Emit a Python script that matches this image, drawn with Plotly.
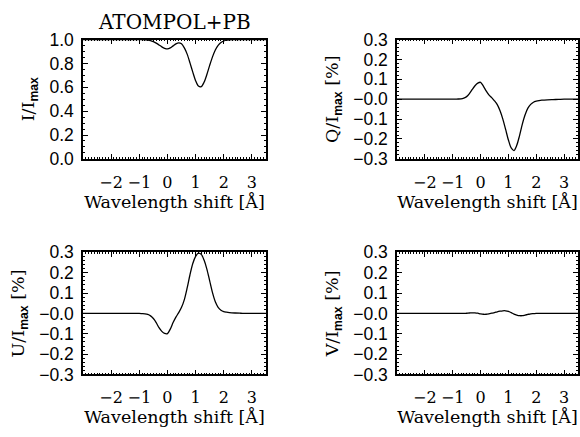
import plotly.graph_objects as go

# ---------------- data ----------------
WAVE = [-3.0, -2.5, -2.0, -1.5, -1.2,
        -1.0, -0.9, -0.8, -0.7, -0.6, -0.5, -0.4, -0.3, -0.2, -0.1,
        0.0, 0.1, 0.2, 0.3, 0.4, 0.5, 0.6, 0.7, 0.8, 0.9,
        1.0, 1.1, 1.2, 1.3, 1.4, 1.5, 1.6, 1.7, 1.8, 1.9,
        2.0, 2.1, 2.2, 2.4, 2.6, 2.8, 3.0, 3.25, 3.5]

STOKES_I = [1.0, 1.0, 1.0, 1.0, 1.0,
            1.0, 0.999, 0.998, 0.996, 0.991, 0.982, 0.970, 0.955, 0.939, 0.927,
            0.922, 0.930, 0.947, 0.964, 0.973, 0.965, 0.930, 0.878, 0.805, 0.727,
            0.655, 0.610, 0.605, 0.642, 0.707, 0.784, 0.855, 0.913, 0.952, 0.976,
            0.988, 0.995, 0.998, 0.999, 1.0, 1.0, 1.0, 1.0, 1.0]

STOKES_Q = [0.0, 0.0, 0.0, 0.0, 0.0,
            0.0, 0.0005, 0.001, 0.002, 0.006, 0.013, 0.028, 0.049, 0.068, 0.081,
            0.085, 0.066, 0.042, 0.022, 0.008, -0.008, -0.027, -0.058, -0.100, -0.152,
            -0.205, -0.245, -0.258, -0.232, -0.183, -0.125, -0.078, -0.045, -0.026, -0.015,
            -0.010, -0.007, -0.005, -0.003, -0.002, -0.001, 0.0, 0.0, 0.0]

STOKES_U = [0.0, 0.0, 0.0, 0.0, 0.0,
            0.0, -0.001, -0.002, -0.005, -0.012, -0.025, -0.045, -0.070, -0.088, -0.098,
            -0.099, -0.077, -0.045, -0.018, 0.004, 0.030, 0.068, 0.125, 0.190, 0.245,
            0.280, 0.296, 0.290, 0.262, 0.218, 0.160, 0.102, 0.057, 0.030, 0.016,
            0.009, 0.006, 0.004, 0.002, 0.001, 0.0, 0.0, 0.0, 0.0]

STOKES_V = [0.0, 0.0, 0.0, 0.0, 0.0,
            0.0, 0.0, 0.0, 0.0, 0.0, 0.001, 0.002, 0.003, 0.003, 0.001,
            -0.002, -0.004, -0.004, -0.002, 0.001, 0.004, 0.008, 0.011, 0.013, 0.013,
            0.010, 0.004, -0.003, -0.008, -0.011, -0.011, -0.008, -0.005, -0.002, -0.001,
            0.0, 0.0, 0.0, 0.0, 0.0, 0.0, 0.0, 0.0, 0.0]

X_TICKS = [-2, -1, 0, 1, 2, 3]
X_TICKTEXT = ["\u22122", "\u22121", "0", "1", "2", "3"]
I_TICKS = [0.0, 0.2, 0.4, 0.6, 0.8, 1.0]
I_TICKTEXT = ["0.0", "0.2", "0.4", "0.6", "0.8", "1.0"]
P_TICKS = [-0.3, -0.2, -0.1, 0.0, 0.1, 0.2, 0.3]
P_TICKTEXT = ["\u22120.3", "\u22120.2", "\u22120.1", "\u22120.0", "0.1", "0.2", "0.3"]

TITLE = "ATOMPOL+PB"
X_TITLE = "Wavelength shift [\u00c5]"
SUB = "<sub><span style='font-family:Liberation Sans;font-weight:bold'>max</span></sub>"
Y_TITLES = ["I/I" + SUB, "Q/I" + SUB + " [%]", "U/I" + SUB + " [%]", "V/I" + SUB + " [%]"]

# ---------------- figure ----------------
SERIF = "DejaVu Serif"
SANS = "Liberation Sans"

fig = go.Figure()

series = [STOKES_I, STOKES_Q, STOKES_U, STOKES_V]
xdom = [[0.1431, 0.4586], [0.6845, 0.9966], [0.1431, 0.4586], [0.6845, 0.9966]]
ydom = [[0.6430, 0.9291], [0.6430, 0.9291], [0.1259, 0.4188], [0.1259, 0.4188]]

layout = dict(
    width=580, height=437,
    margin=dict(l=0, r=0, t=0, b=0),
    paper_bgcolor="white", plot_bgcolor="white",
    showlegend=False,
)

for k in range(4):
    n = "" if k == 0 else str(k + 1)
    fig.add_trace(go.Scatter(
        x=WAVE, y=series[k], mode="lines",
        line=dict(color="black", width=1.3, shape="spline", smoothing=0.8),
        xaxis="x" + n, yaxis="y" + n, hoverinfo="skip",
    ))
    is_i = (k == 0)
    layout["xaxis" + n] = dict(
        domain=xdom[k], anchor="y" + n, range=[-3.0, 3.5],
        tickvals=X_TICKS, ticktext=X_TICKTEXT,
        ticks="inside", ticklen=5, tickwidth=1, tickcolor="black",
        mirror="allticks", showline=True, linecolor="black", linewidth=1.5,
        showgrid=False, zeroline=False,
        minor=dict(ticks="inside", ticklen=2, dtick=0.1, tick0=0, tickcolor="black", showgrid=False),
        tickfont=dict(family=SERIF, size=16, color="black"),
        ticklabelstandoff=8,
        title=dict(text=X_TITLE, font=dict(family=SERIF, size=17.5, color="black"), standoff=2),
    )
    layout["yaxis" + n] = dict(
        domain=ydom[k], anchor="x" + n,
        range=[0.0, 1.0] if is_i else [-0.3, 0.3],
        tickvals=I_TICKS if is_i else P_TICKS,
        ticktext=I_TICKTEXT if is_i else P_TICKTEXT,
        ticks="inside", ticklen=5, tickwidth=1, tickcolor="black",
        mirror="allticks", showline=True, linecolor="black", linewidth=1.5,
        showgrid=False, zeroline=False,
        minor=dict(ticks="inside", ticklen=2, dtick=0.05 if is_i else 0.02,
                   tick0=0, tickcolor="black", showgrid=False),
        tickfont=dict(family=SANS, size=17.5, color="black"),
        ticklabelstandoff=4,
        title=dict(text=Y_TITLES[k], font=dict(family=SERIF, size=17.5, color="black"), standoff=10),
    )

layout["annotations"] = [dict(
    text=TITLE, xref="paper", yref="paper",
    x=(xdom[0][0] + xdom[0][1]) / 2, y=1 - 13 / 437,
    xanchor="center", yanchor="middle", showarrow=False,
    font=dict(family=SERIF, size=20, color="black"),
)]

fig.update_layout(**layout)
fig.write_html("out.html")
